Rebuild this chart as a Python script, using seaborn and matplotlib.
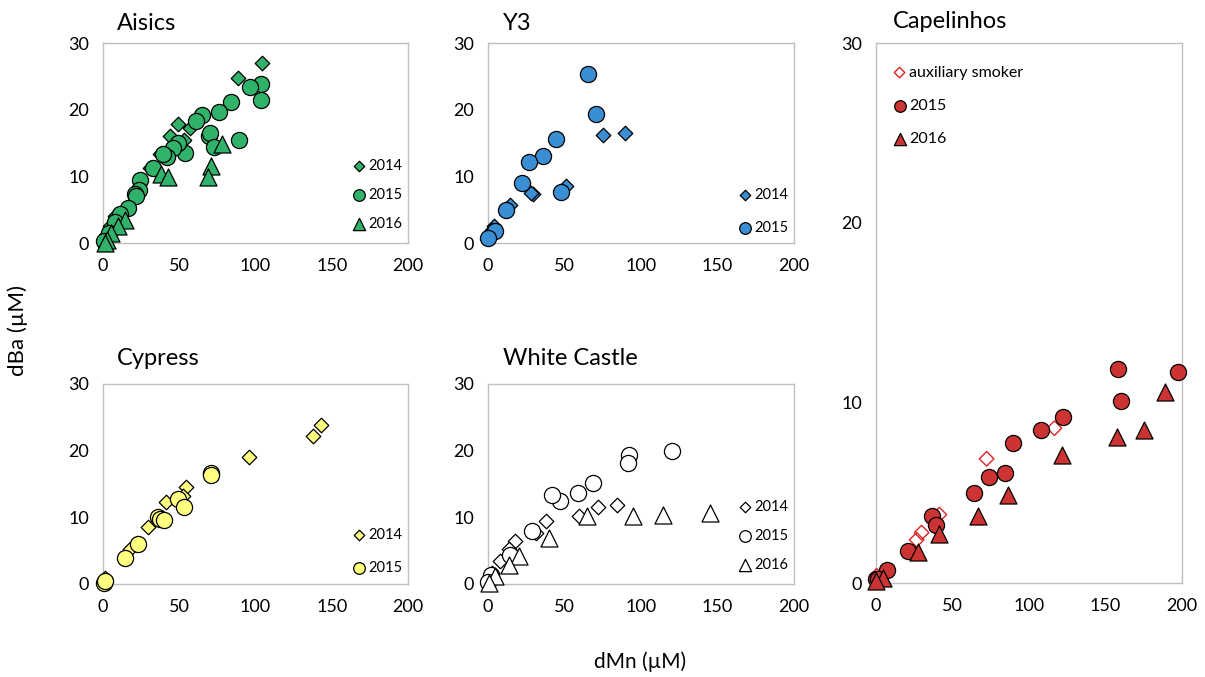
import matplotlib
matplotlib.use("Agg")
import matplotlib.pyplot as plt
import seaborn as sns

# dBa vs dMn (uM) per site and year
aisics_2014_x = [104.5, 88.5, 49.2, 44.2, 56.8, 53.1, 37.2, 30.6, 7.7, 4.4, 2.2, 0.5]
aisics_2014_y = [27.0, 24.8, 17.9, 16.0, 17.3, 15.4, 13.3, 11.2, 4.0, 2.5, 1.2, 0.3]
aisics_2015_x = [103.3, 96.1, 103.9, 83.7, 76.1, 64.6, 61.3, 69.6, 70.4, 72.6, 89.1, 53.7, 49.3,
                 46.1, 41.7, 39.6, 33.0, 24.3, 23.9, 21.1, 21.7, 16.7, 11.3, 8.0, 3.7, 0.4]
aisics_2015_y = [23.9, 23.4, 21.4, 21.2, 19.7, 19.2, 18.3, 16.1, 16.5, 14.4, 15.4, 13.5, 15.0,
                 14.3, 12.9, 13.3, 11.3, 9.5, 8.0, 7.4, 7.0, 5.3, 4.3, 3.2, 1.5, 0.3]
aisics_2016_x = [77.8, 70.7, 68.9, 38.2, 42.9, 14.4, 9.6, 5.2, 2.4, 1.3]
aisics_2016_y = [14.8, 11.6, 9.9, 10.4, 9.9, 3.4, 2.6, 1.5, 0.5, 0.0]

y3_2014_x = [89.5, 75.3, 50.8, 29.3, 28.4, 14.4, 3.7, 2.6]
y3_2014_y = [16.5, 16.2, 8.5, 7.4, 7.5, 5.7, 2.5, 2.0]
y3_2015_x = [65.4, 70.9, 44.2, 35.9, 26.7, 22.3, 47.9, 11.8, 4.8, 0.2]
y3_2015_y = [25.3, 19.3, 15.6, 13.0, 12.1, 9.0, 7.6, 4.9, 1.8, 0.7]

cypress_2014_x = [142.9, 137.9, 95.5, 54.5, 41.4, 52.3, 29.4, 17.4, 1.1]
cypress_2014_y = [23.8, 22.2, 19.1, 14.5, 12.3, 13.2, 8.5, 5.2, 0.9]
cypress_2015_x = [71.0, 71.0, 49.1, 52.8, 36.0, 37.1, 40.3, 22.9, 14.6, 0.7, 1.1]
cypress_2015_y = [16.7, 16.3, 12.8, 11.5, 10.0, 9.7, 9.6, 6.0, 3.9, 0.2, 0.4]

wc_2014_x = [84.5, 72.2, 59.5, 38.1, 31.5, 17.9, 13.6, 8.1, 2.6]
wc_2014_y = [11.8, 11.6, 10.2, 9.5, 7.7, 6.4, 5.3, 3.4, 1.6]
wc_2015_x = [120.1, 91.9, 91.5, 68.7, 59.1, 46.8, 42.0, 28.9, 14.7, 2.2, 0.0]
wc_2015_y = [19.9, 19.3, 18.2, 15.2, 13.7, 12.4, 13.4, 8.0, 4.4, 1.4, 0.3]
wc_2016_x = [145.3, 114.2, 95.0, 65.0, 39.8, 20.1, 14.0, 4.8, 0.9]
wc_2016_y = [10.7, 10.4, 10.2, 10.2, 6.9, 4.2, 2.8, 1.2, 0.1]

cap_aux_x = [116.6, 72.3, 41.4, 29.8, 26.6, 7.0, 0.4]
cap_aux_y = [8.6, 6.9, 3.8, 2.8, 2.4, 0.7, 0.4]
cap_2015_x = [158.4, 197.6, 160.1, 122.4, 107.6, 89.3, 74.1, 84.3, 64.1, 36.4, 39.2, 21.1, 7.0, 0.0, 1.5]
cap_2015_y = [11.9, 11.7, 10.1, 9.2, 8.5, 7.8, 5.9, 6.1, 5.0, 3.7, 3.2, 1.8, 0.7, 0.2, 0.2]
cap_2016_x = [188.9, 175.2, 157.3, 121.8, 86.1, 66.4, 41.4, 27.2, 4.8, 0.0]
cap_2016_y = [10.6, 8.5, 8.1, 7.1, 4.9, 3.7, 2.7, 1.7, 0.3, 0.1]

GREEN = "#30B26A"
BLUE = "#3A8ED3"
YELLOW = "#FFFF80"
WHITE = "#FFFFFF"
RED = "#CC3333"
SPINE = "#BFBFBF"

sns.set_style("white")
plt.rcParams["font.family"] = ["Lato", "DejaVu Sans"]
plt.rcParams["text.color"] = "black"

MARK = {"D": 55, "o": 135, "^": 150}

W, H = 1205, 677
fig = plt.figure(figsize=(W / 100, H / 100), dpi=100)


def px_axes(left, top, right, bottom):
    return fig.add_axes([left / W, 1 - bottom / H, (right - left) / W, (bottom - top) / H])


def style(ax, ymax, yticks):
    ax.set_xlim(0, 200)
    ax.set_ylim(0, ymax)
    ax.set_xticks([0, 50, 100, 150, 200])
    ax.set_yticks(yticks)
    for s in ax.spines.values():
        s.set_color(SPINE)
        s.set_linewidth(1.0)
        s.set_visible(True)
    ax.tick_params(axis="both", which="both", direction="out", length=5, width=1.0,
                   color=SPINE, labelsize=13, labelcolor="black", pad=5)
    ax.tick_params(axis="x", pad=6)
    ax.set_xlabel("")
    ax.set_ylabel("")


def series(ax, x, y, marker, face, label, edge="black", lw=0.9):
    sns.scatterplot(x=x, y=y, ax=ax, marker=marker, s=MARK[marker], color=face,
                    edgecolor=edge, linewidth=lw, label=label, clip_on=False, zorder=3)


def title(ax, text, dx, dy):
    ax.annotate(text, xy=(0, 1), xycoords="axes fraction", xytext=(dx, dy),
                textcoords="offset pixels", fontsize=17, ha="left", va="baseline",
                color="black")


def legend(ax, loc, anchor, spacing, size=10.5):
    leg = ax.legend(loc=loc, bbox_to_anchor=anchor, frameon=False, fontsize=size,
                    markerscale=0.72, handletextpad=0.1, handlelength=1.0,
                    labelspacing=spacing, borderaxespad=0)
    for t in leg.get_texts():
        t.set_color("black")


# Aisics
ax = px_axes(103, 43, 408, 243)
series(ax, aisics_2014_x, aisics_2014_y, "D", GREEN, "2014")
series(ax, aisics_2015_x, aisics_2015_y, "o", GREEN, "2015")
series(ax, aisics_2016_x, aisics_2016_y, "^", GREEN, "2016")
style(ax, 30, [0, 10, 20, 30])
title(ax, "Aisics", 14, 13)
legend(ax, "lower right", (1.0, 0.03), 1.05)

# Y3
ax = px_axes(488, 43, 794, 243)
series(ax, y3_2014_x, y3_2014_y, "D", BLUE, "2014")
series(ax, y3_2015_x, y3_2015_y, "o", BLUE, "2015")
style(ax, 30, [0, 10, 20, 30])
title(ax, "Y3", 15, 13)
legend(ax, "lower right", (1.0, 0.01), 1.3)

# Cypress
ax = px_axes(103, 384, 408, 584)
series(ax, cypress_2014_x, cypress_2014_y, "D", YELLOW, "2014")
series(ax, cypress_2015_x, cypress_2015_y, "o", YELLOW, "2015")
style(ax, 30, [0, 10, 20, 30])
title(ax, "Cypress", 14, 19)
legend(ax, "lower right", (1.0, 0.015), 1.3)

# White Castle
ax = px_axes(488, 384, 794, 584)
series(ax, wc_2014_x, wc_2014_y, "D", WHITE, "2014")
series(ax, wc_2015_x, wc_2015_y, "o", WHITE, "2015")
series(ax, wc_2016_x, wc_2016_y, "^", WHITE, "2016")
style(ax, 30, [0, 10, 20, 30])
title(ax, "White Castle", 15, 19)
legend(ax, "lower right", (1.0, 0.03), 1.05)

# Capelinhos
ax = px_axes(876, 43, 1182, 583)
series(ax, cap_aux_x, cap_aux_y, "D", "none", "auxiliary smoker", edge="#DD2222", lw=1.0)
series(ax, cap_2015_x, cap_2015_y, "o", RED, "2015")
series(ax, cap_2016_x, cap_2016_y, "^", RED, "2016")
style(ax, 30, [0, 10, 20, 30])
title(ax, "Capelinhos", 17, 15)
legend(ax, "upper left", (0.03, 0.97), 1.2, size=11.5)

fig.text(18 / W, 1 - 330 / H, "dBa (µM)", rotation=90, fontsize=16, ha="center", va="center")
fig.text(640 / W, 1 - 662 / H, "dMn (µM)", fontsize=15, ha="center", va="center")

fig.savefig("out.png", dpi=100)
